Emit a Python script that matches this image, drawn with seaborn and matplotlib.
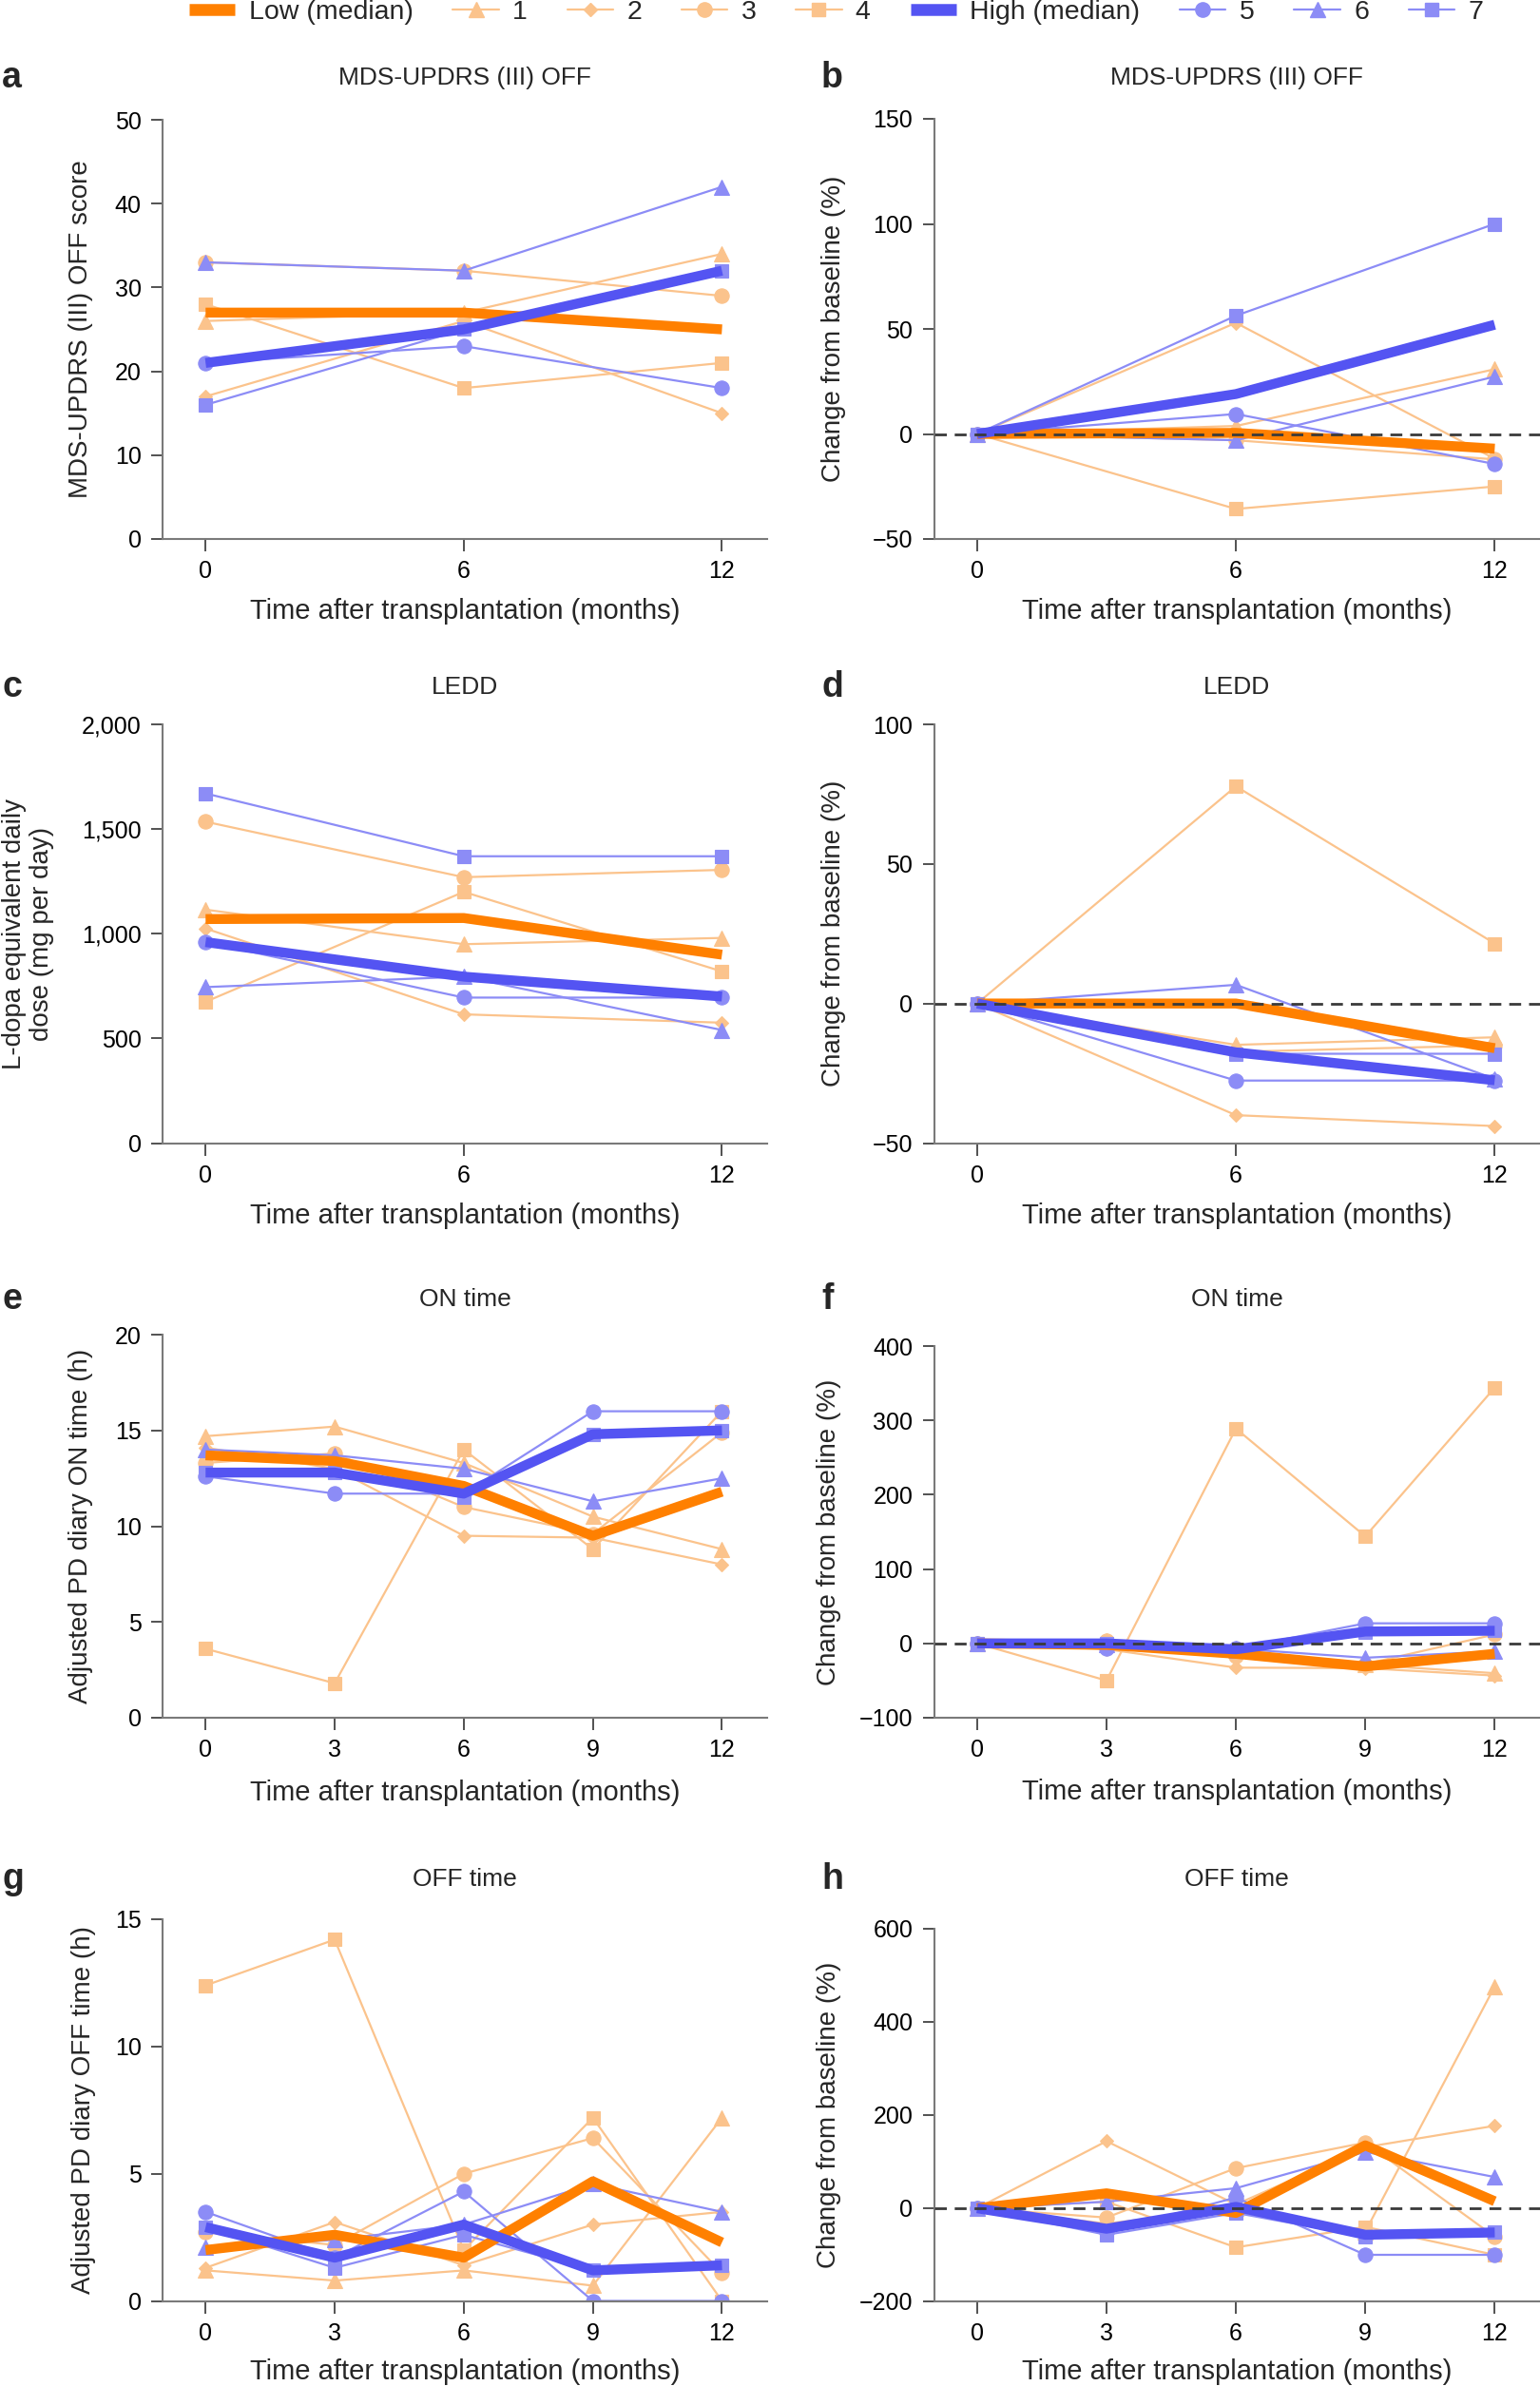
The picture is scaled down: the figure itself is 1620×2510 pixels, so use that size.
import matplotlib
matplotlib.use("Agg")
import matplotlib.pyplot as plt
from matplotlib.lines import Line2D
from matplotlib.ticker import FuncFormatter
import seaborn as sns
import pandas as pd

# ---------------- data ----------------
T3 = [0, 6, 12]
T5 = [0, 3, 6, 9, 12]

legend_labels = ["Low (median)", "1", "2", "3", "4", "High (median)", "5", "6", "7"]

# a: MDS-UPDRS (III) OFF score
a_low_med = [27, 27, 25]
a_p1 = [26, 27, 34]
a_p2 = [17, 26, 15]
a_p3 = [33, 32, 29]
a_p4 = [28, 18, 21]
a_high_med = [21, 25, 32]
a_p5 = [21, 23, 18]
a_p6 = [33, 32, 42]
a_p7 = [16, 25, 32]

# b: MDS-UPDRS (III) OFF change (%)
b_low_med = [0, 0.5, -7]
b_p1 = [0, 3.8, 30.8]
b_p2 = [0, 52.9, -11.8]
b_p3 = [0, -3.0, -12.1]
b_p4 = [0, -35.7, -25.0]
b_high_med = [0, 19.0, 52.0]
b_p5 = [0, 9.5, -14.3]
b_p6 = [0, -3.0, 27.3]
b_p7 = [0, 56.3, 100.0]

# c: LEDD (mg per day)
c_low_med = [1070, 1075, 900]
c_p1 = [1115, 950, 980]
c_p2 = [1025, 615, 575]
c_p3 = [1535, 1270, 1305]
c_p4 = [675, 1200, 820]
c_high_med = [960, 795, 700]
c_p5 = [960, 695, 695]
c_p6 = [745, 795, 540]
c_p7 = [1670, 1370, 1370]

# d: LEDD change (%)
d_low_med = [0, 0, -16]
d_p1 = [0, -14.8, -12.1]
d_p2 = [0, -40.0, -43.9]
d_p3 = [0, -17.3, -15.0]
d_p4 = [0, 77.8, 21.5]
d_high_med = [0, -17.5, -27.5]
d_p5 = [0, -27.6, -27.6]
d_p6 = [0, 6.7, -27.0]
d_p7 = [0, -18.0, -18.0]

# e: ON time (h)
e_low_med = [13.7, 13.4, 12.1, 9.5, 11.8]
e_p1 = [14.7, 15.2, 13.3, 10.5, 8.8]
e_p2 = [14.1, 13.0, 9.5, 9.4, 8.0]
e_p3 = [13.3, 13.8, 11.0, 9.6, 14.9]
e_p4 = [3.6, 1.8, 14.0, 8.8, 16.0]
e_high_med = [12.8, 12.8, 11.7, 14.8, 15.0]
e_p5 = [12.6, 11.7, 11.7, 16.0, 16.0]
e_p6 = [14.0, 13.7, 13.0, 11.3, 12.5]
e_p7 = [12.8, 12.8, 11.5, 14.8, 15.0]

# f: ON time change (%)
f_low_med = [0, -2, -14, -31, -14]
f_p1 = [0, 3.4, -9.5, -28.6, -40.1]
f_p2 = [0, -7.8, -32.6, -33.3, -43.3]
f_p3 = [0, 3.8, -17.3, -27.8, 12.0]
f_p4 = [0, -50.0, 289, 144, 344]
f_high_med = [0, 0, -8, 16, 17]
f_p5 = [0, -7.1, -7.1, 27.0, 27.0]
f_p6 = [0, -2.1, -7.1, -19.3, -10.7]
f_p7 = [0, 0.0, -10.2, 15.6, 17.2]

# g: OFF time (h)
g_low_med = [2.0, 2.6, 1.7, 4.7, 2.3]
g_p1 = [1.2, 0.8, 1.2, 0.6, 7.2]
g_p2 = [1.3, 3.1, 1.4, 3.0, 3.5]
g_p3 = [2.7, 2.2, 5.0, 6.4, 1.1]
g_p4 = [12.4, 14.2, 2.0, 7.2, 0.0]
g_high_med = [2.9, 1.7, 3.0, 1.2, 1.4]
g_p5 = [3.5, 1.7, 4.3, 0.0, 0.0]
g_p6 = [2.1, 2.4, 3.0, 4.6, 3.5]
g_p7 = [2.9, 1.3, 2.6, 1.2, 1.4]

# h: OFF time change (%)
h_low_med = [0, 32, -10, 135, 15]
h_p1 = [0, -33, 0, -50, 476]
h_p2 = [0, 144, 8, 131, 177]
h_p3 = [0, -20, 86, 141, -61]
h_p4 = [0, 14, -84, -40, -100]
h_high_med = [0, -44, 3, -57, -52]
h_p5 = [0, -51, 23, -100, -100]
h_p6 = [0, 14, 43, 121, 67]
h_p7 = [0, -57, -10, -61, -52]

# ---------------- style ----------------
sns.set_style("ticks")
plt.rcParams["font.family"] = ["Liberation Sans", "DejaVu Sans"]
plt.rcParams["axes.unicode_minus"] = True

LOW_MED = "#FF8000"
LOW_IND = "#FBC38C"
HIGH_MED = "#5454F2"
HIGH_IND = "#8C8CF6"
SPINE = "#7a7a7a"

markers_low = ["^", "D", "o", "s"]
markers_high = ["o", "^", "s"]
msize = {"^": 11, "D": 7.5, "o": 11, "s": 10}

W, H = 1620, 2510
fig = plt.figure(figsize=(W / 100, H / 100), dpi=100)


def rect(l, r, t, b):
    return [l / W, 1 - b / H, (r - l) / W, (b - t) / H]


LEFT = (171, 807)
RIGHT = (982.5, 1620)

panels = [
    dict(letter="a", title="MDS-UPDRS (III) OFF", pos=(LEFT, 126, 567), t=T3,
         low_med=a_low_med, low=[a_p1, a_p2, a_p3, a_p4],
         high_med=a_high_med, high=[a_p5, a_p6, a_p7],
         ylim=(0, 50), yticks=[0, 10, 20, 30, 40, 50], ylabel="MDS-UPDRS (III) OFF score",
         ylx=-0.135, xly=-0.172, zero=False, title_y=82),
    dict(letter="b", title="MDS-UPDRS (III) OFF", pos=(RIGHT, 125, 567), t=T3,
         low_med=b_low_med, low=[b_p1, b_p2, b_p3, b_p4],
         high_med=b_high_med, high=[b_p5, b_p6, b_p7],
         ylim=(-50, 150), yticks=[-50, 0, 50, 100, 150], ylabel="Change from baseline (%)",
         ylx=-0.1655, xly=-0.172, zero=True, title_y=82),
    dict(letter="c", title="LEDD", pos=(LEFT, 762, 1202.5), t=T3,
         low_med=c_low_med, low=[c_p1, c_p2, c_p3, c_p4],
         high_med=c_high_med, high=[c_p5, c_p6, c_p7],
         ylim=(0, 2000), yticks=[0, 500, 1000, 1500, 2000],
         ylabel="L-dopa equivalent daily\ndose (mg per day)",
         ylx=-0.222, xly=-0.173, zero=False, title_y=723, comma=True),
    dict(letter="d", title="LEDD", pos=(RIGHT, 762, 1202.5), t=T3,
         low_med=d_low_med, low=[d_p1, d_p2, d_p3, d_p4],
         high_med=d_high_med, high=[d_p5, d_p6, d_p7],
         ylim=(-50, 100), yticks=[-50, 0, 50, 100], ylabel="Change from baseline (%)",
         ylx=-0.1655, xly=-0.173, zero=True, title_y=723),
    dict(letter="e", title="ON time", pos=(LEFT, 1404, 1807), t=T5,
         low_med=e_low_med, low=[e_p1, e_p2, e_p3, e_p4],
         high_med=e_high_med, high=[e_p5, e_p6, e_p7],
         ylim=(0, 20), yticks=[0, 5, 10, 15, 20], ylabel="Adjusted PD diary ON time (h)",
         ylx=-0.135, xly=-0.196, zero=False, title_y=1367),
    dict(letter="f", title="ON time", pos=(RIGHT, 1416, 1807), t=T5,
         low_med=f_low_med, low=[f_p1, f_p2, f_p3, f_p4],
         high_med=f_high_med, high=[f_p5, f_p6, f_p7],
         ylim=(-100, 400), yticks=[-100, 0, 100, 200, 300, 400], ylabel="Change from baseline (%)",
         ylx=-0.173, xly=-0.200, zero=True, title_y=1367),
    dict(letter="g", title="OFF time", pos=(LEFT, 2019, 2420.5), t=T5,
         low_med=g_low_med, low=[g_p1, g_p2, g_p3, g_p4],
         high_med=g_high_med, high=[g_p5, g_p6, g_p7],
         ylim=(0, 15), yticks=[0, 5, 10, 15], ylabel="Adjusted PD diary OFF time (h)",
         ylx=-0.130, xly=-0.185, zero=False, title_y=1977),
    dict(letter="h", title="OFF time", pos=(RIGHT, 2029, 2421), t=T5,
         low_med=h_low_med, low=[h_p1, h_p2, h_p3, h_p4],
         high_med=h_high_med, high=[h_p5, h_p6, h_p7],
         ylim=(-200, 600), yticks=[-200, 0, 200, 400, 600], ylabel="Change from baseline (%)",
         ylx=-0.173, xly=-0.188, zero=True, title_y=1977),
]

for p in panels:
    (l, r), top, bot = p["pos"]
    ax = fig.add_axes(rect(l, r, top, bot))
    t = p["t"]
    for vals, mk in zip(p["low"], markers_low):
        sns.lineplot(x=t, y=vals, ax=ax, color=LOW_IND, marker=mk, markersize=msize[mk],
                     markeredgecolor=LOW_IND, markeredgewidth=0.8, linewidth=1.6,
                     legend=False, zorder=2)
    for vals, mk in zip(p["high"], markers_high):
        sns.lineplot(x=t, y=vals, ax=ax, color=HIGH_IND, marker=mk, markersize=msize[mk],
                     markeredgecolor=HIGH_IND, markeredgewidth=0.8, linewidth=1.6,
                     legend=False, zorder=2.5)
    sns.lineplot(x=t, y=p["low_med"], ax=ax, color=LOW_MED, linewidth=7.5,
                 solid_capstyle="butt", solid_joinstyle="round", legend=False, zorder=3)
    sns.lineplot(x=t, y=p["high_med"], ax=ax, color=HIGH_MED, linewidth=7.5,
                 solid_capstyle="butt", solid_joinstyle="round", legend=False, zorder=4)
    if p["zero"]:
        ax.axhline(0, color="#3a3a3a", linestyle=(0, (4.5, 3)), linewidth=2.0, zorder=5)

    ax.set_xlim(-1, 13.05)
    ax.set_ylim(*p["ylim"])
    ax.set_xticks(t)
    ax.set_yticks(p["yticks"])
    if p.get("comma"):
        ax.yaxis.set_major_formatter(FuncFormatter(lambda v, _: f"{v:,.0f}"))
    sns.despine(ax=ax)
    for s in ("left", "bottom"):
        ax.spines[s].set_color(SPINE)
        ax.spines[s].set_linewidth(1.5)
    ax.tick_params(axis="both", direction="out", length=9, width=1.1, color="#222222",
                   pad=7, labelsize=18, labelcolor="black")
    ax.set_xlabel("Time after transplantation (months)", fontsize=21)
    ax.set_ylabel(p["ylabel"], fontsize=20, linespacing=1.15)
    ax.yaxis.set_label_coords(p["ylx"], 0.5)
    ax.yaxis.label.set_verticalalignment("center")
    ax.xaxis.set_label_coords(0.5, p["xly"])
    ax.xaxis.label.set_verticalalignment("center")
    ax.patch.set_alpha(0)

    cx = (l + r) / 2 / W
    fig.text(cx, 1 - p["title_y"] / H, p["title"], ha="center", va="center", fontsize=19)
    lx = 2 if l < 500 else 864
    fig.text(lx / W, 1 - p["title_y"] / H, p["letter"], ha="left", va="center",
             fontsize=27, fontweight="bold")

# ---------------- legend ----------------
handles = [Line2D([], [], color=LOW_MED, linewidth=9, solid_capstyle="butt")]
for mk in markers_low:
    handles.append(Line2D([], [], color=LOW_IND, marker=mk, markersize=msize[mk],
                          markeredgecolor=LOW_IND, linewidth=1.6))
handles.append(Line2D([], [], color=HIGH_MED, linewidth=9, solid_capstyle="butt"))
for mk in markers_high:
    handles.append(Line2D([], [], color=HIGH_IND, marker=mk, markersize=msize[mk],
                          markeredgecolor=HIGH_IND, linewidth=1.6))

fig.legend(handles, legend_labels, loc="center", bbox_to_anchor=(0.543, 1 - 13 / H),
           ncol=9, frameon=False, fontsize=20.5, handlelength=1.7, handletextpad=0.5,
           columnspacing=1.47, borderpad=0, borderaxespad=0)

fig.savefig("out.png", dpi=100)
